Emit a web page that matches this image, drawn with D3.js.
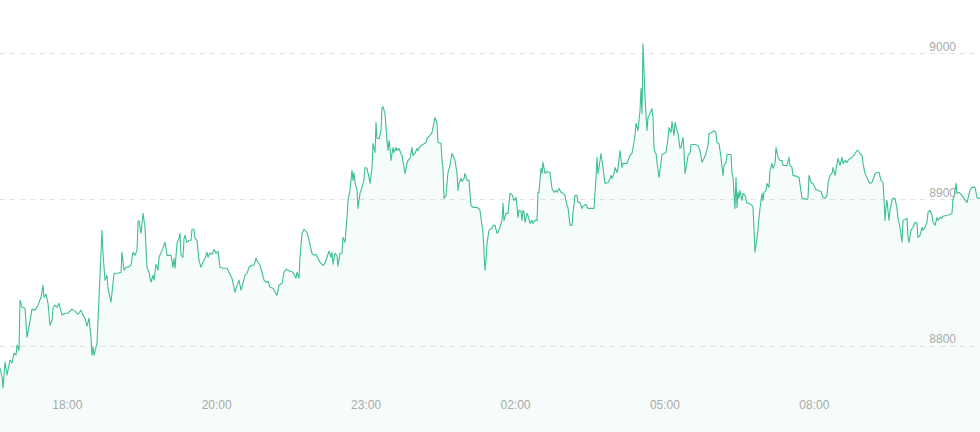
<!DOCTYPE html>
<html><head><meta charset="utf-8">
<script src="https://cdn.jsdelivr.net/npm/d3@7/dist/d3.min.js"></script>
<style>html,body{margin:0;padding:0;background:#fff;}svg{display:block;}</style>
</head><body>
<svg id="c" width="980" height="432"></svg>
<script>
// category slot index (one slot per sample) and price
const series = [
[0,8784.6],[2,8778.4],[3,8770.9],[5,8788.7],[7,8779.8],[10,8790.0],[12,8788.0],[14,8794.8],[16,8793.4],[17,8800.3],[19,8796.8],[20,8831.0],[22,8826.2],[25,8825.5],[27,8805.7],[29,8812.6],[32,8824.9],[35,8824.2],[38,8827.6],[41,8833.0],[43,8841.2],[44,8833.0],[46,8835.1],[48,8828.9],[50,8813.9],[52,8817.3],[53,8825.5],[55,8827.6],[57,8826.2],[59,8828.9],[62,8820.8],[65,8822.1],[68,8822.1],[72,8824.9],[75,8823.5],[78,8821.4],[81,8824.2],[83,8820.8],[85,8818.7],[87,8813.2],[89,8818.7],[91,8805.7],[92,8793.4],[93,8798.9],[94,8793.4],[97,8801.6],[99,8833.0],[102,8878.8],[103,8863.1],[105,8844.7],[107,8848.1],[108,8839.2],[111,8829.6],[113,8842.6],[114,8849.4],[118,8849.4],[121,8850.1],[122,8863.8],[124,8851.5],[126,8853.5],[128,8853.5],[131,8854.9],[133,8863.8],[135,8861.7],[137,8865.1],[138,8884.3],[139,8885.6],[141,8876.8],[143,8890.4],[145,8880.9],[147,8853.5],[149,8850.1],[151,8843.3],[153,8848.1],[154,8844.7],[156,8855.6],[158,8851.5],[159,8860.4],
[162,8865.1],[165,8870.6],[167,8861.7],[171,8861.7],[173,8853.5],[174,8859.7],[175,8852.9],[177,8869.9],[179,8873.3],[180,8876.8],[181,8861.7],[183,8860.4],[184,8873.3],[185,8875.4],[187,8870.6],[189,8872.0],[191,8872.0],[192,8879.5],[194,8879.5],[195,8873.3],[197,8872.0],[199,8858.3],[201,8853.5],[203,8857.0],[205,8859.7],[207,8863.8],[208,8860.4],[210,8863.1],[212,8862.4],[214,8865.8],[216,8863.1],[218,8864.5],[220,8853.5],[223,8852.9],[227,8852.9],[228,8851.5],[232,8846.0],[235,8836.5],[237,8841.2],[239,8844.7],[241,8837.8],[243,8842.6],[245,8848.1],[247,8849.4],[249,8853.5],[252,8854.9],[254,8854.9],[256,8859.7],[258,8857.0],[260,8854.9],[262,8850.1],[264,8844.7],[266,8843.3],[268,8844.0],[270,8839.9],[273,8839.2],[275,8836.5],[277,8834.4],[279,8841.2],[282,8842.6],[284,8850.1],[286,8852.2],[290,8850.8],[293,8850.1],[296,8846.0],[297,8850.1],[299,8846.0],[300,8860.4],[302,8876.8],[304,8879.5],[307,8877.4],[309,8872.0],[312,8863.1],[314,8861.7],[316,8862.4],[318,8859.7],
[320,8857.0],[323,8854.9],[325,8856.3],[327,8860.4],[329,8864.5],[331,8860.4],[332,8863.8],[333,8855.6],[335,8863.1],[337,8861.7],[338,8854.2],[340,8863.1],[342,8863.1],[343,8874.0],[345,8870.6],[347,8887.7],[348,8899.3],[350,8906.1],[352,8919.8],[353,8913.0],[354,8918.4],[355,8911.6],[357,8906.1],[358,8893.8],[360,8904.1],[362,8908.2],[364,8913.6],[365,8921.8],[367,8921.2],[369,8915.0],[370,8910.9],[372,8921.8],[373,8938.2],[375,8932.1],[376,8952.6],[377,8941.6],[379,8941.6],[381,8947.1],[382,8962.8],[383,8963.5],[385,8958.7],[387,8940.3],[388,8933.4],[389,8940.3],[390,8935.5],[391,8926.6],[393,8935.5],[394,8932.1],[396,8935.5],[397,8933.4],[399,8934.8],[401,8931.4],[402,8930.0],[404,8921.8],[405,8917.7],[407,8924.6],[408,8926.6],[410,8928.0],[412,8935.5],[413,8930.0],[415,8931.4],[417,8934.8],[418,8933.4],[420,8936.2],[423,8937.5],[426,8938.9],[427,8941.6],[429,8943.0],[432,8945.7],[433,8949.2],[435,8956.0],[437,8951.9],[438,8938.9],[441,8938.2],[442,8926.6],[443,8921.2],[444,8900.7],[446,8902.7],[447,8910.9],[448,8918.4],[450,8923.2],[452,8931.4],[453,8930.0],[455,8926.6],[457,8917.7],[458,8906.1],[459,8910.9],[461,8914.3],[462,8912.3],[464,8914.3],[465,8917.7],[467,8913.0],[469,8913.0],[471,8895.9],[473,8894.5],[477,8894.5],[479,8893.8],
[480,8892.5],[483,8876.8],[485,8851.5],[486,8858.3],[487,8869.9],[489,8878.8],[492,8880.2],[493,8882.2],[495,8882.2],[497,8876.8],[498,8877.4],[500,8880.9],[502,8885.6],[503,8897.3],[504,8885.6],[506,8890.4],[508,8890.4],[510,8904.1],[512,8903.4],[514,8899.3],[516,8901.3],[518,8887.7],[519,8892.5],[521,8891.8],[522,8885.6],[523,8892.5],[524,8891.1],[525,8884.3],[527,8890.4],[528,8889.1],[530,8883.6],[532,8885.6],[533,8883.6],[535,8885.6],[537,8885.6],[538,8904.8],[539,8904.8],[541,8921.2],[542,8917.7],[543,8925.3],[545,8917.7],[547,8919.1],[550,8918.4],[552,8907.5],[554,8904.8],[556,8906.1],[557,8904.8],[559,8907.5],[561,8904.8],[563,8904.1],[565,8902.7],[567,8895.9],[568,8894.5],[570,8882.2],[572,8882.2],[573,8891.1],[575,8902.7],[577,8902.7],[578,8897.9],[580,8897.9],[582,8893.8],[583,8895.2],[586,8896.6],[588,8893.8],[592,8893.8],[594,8893.8],[596,8915.0],[597,8928.7],[598,8917.7],[599,8921.8],[601,8931.4],[602,8926.6],[603,8921.8],[605,8910.9],[608,8911.6],[610,8914.3],[611,8916.4],[612,8914.3],[614,8917.7],[615,8921.8],[617,8918.4],[618,8921.2],[620,8933.4],[622,8921.8],[623,8924.6],[627,8924.6],[628,8926.6],[630,8930.0],[632,8931.4],[633,8935.5],[635,8943.7],[636,8951.9],[638,8947.1],[640,8960.8],
[641,8975.8],[642,8958.7],[643,9006.5],[645,8969.6],[647,8947.1],[648,8956.0],[650,8958.7],[652,8962.1],[653,8956.0],[654,8935.5],[655,8932.1],[656,8931.4],[657,8925.3],[659,8915.0],[661,8925.3],[662,8930.7],[664,8931.4],[666,8932.1],[668,8941.6],[669,8949.2],[671,8945.7],[672,8953.3],[674,8943.7],[675,8952.6],[677,8947.1],[678,8945.1],[680,8934.8],[681,8935.5],[683,8942.3],[684,8933.4],[685,8917.7],[687,8925.3],[688,8930.0],[690,8931.4],[691,8937.5],[695,8937.5],[698,8936.9],[700,8933.4],[702,8925.3],[704,8928.0],[706,8931.4],[708,8936.9],[709,8945.1],[712,8945.7],[714,8947.1],[716,8945.7],[717,8938.9],[719,8938.2],[721,8928.7],[723,8916.4],[724,8923.2],[726,8925.3],[727,8930.7],[731,8930.7],[732,8917.7],[733,8915.0],[735,8893.8],[736,8915.0],[737,8894.5],[738,8904.8],[739,8900.7],[740,8906.1],[742,8899.3],[743,8904.1],[745,8902.7],[747,8897.3],[749,8897.3],[752,8895.9],[753,8894.5],[755,8863.8],[757,8873.3],[758,8880.2],[760,8893.8],[762,8904.1],[763,8899.3],[764,8904.8],[766,8906.1],[767,8910.9],[769,8908.2],[770,8919.8],[772,8924.6],[773,8921.2],[775,8924.6],[776,8935.5],[778,8928.7],[780,8926.6],[782,8926.6],[783,8923.2],[787,8923.2],[789,8928.7],[790,8923.2],[792,8921.8],[793,8916.4],[797,8915.7],[799,8915.0],
[802,8900.7],[807,8900.0],[808,8900.7],[809,8916.4],[811,8911.6],[813,8910.9],[816,8906.8],[818,8906.1],[821,8905.4],[823,8901.3],[825,8900.7],[827,8902.7],[828,8910.9],[830,8916.4],[832,8917.7],[833,8921.8],[835,8916.4],[837,8924.6],[838,8928.0],[840,8923.2],[842,8928.7],[843,8924.6],[845,8926.6],[847,8925.3],[848,8926.6],[850,8928.0],[852,8928.7],[853,8929.4],[855,8931.4],[857,8933.4],[858,8933.4],[860,8931.4],[862,8930.0],[863,8924.6],[865,8917.7],[867,8915.0],[868,8913.0],[870,8910.9],[872,8911.6],[873,8913.6],[875,8917.7],[877,8918.4],[879,8918.4],[881,8913.0],[883,8911.6],[884,8900.7],[885,8885.6],[886,8894.5],[887,8899.3],[889,8885.6],[890,8892.5],[892,8899.3],[893,8900.7],[895,8900.7],[897,8893.8],[898,8887.0],[900,8880.9],[902,8870.6],[903,8885.6],[905,8886.3],[907,8887.0],[908,8874.0],[909,8870.6],[911,8878.8],[913,8880.9],[915,8884.3],[917,8883.6],[918,8874.0],[920,8875.4],[922,8880.9],[923,8878.8],[925,8880.9],[927,8884.3],[928,8891.1],[930,8892.5],[932,8889.1],[933,8884.3],[935,8882.2],[937,8887.7],[938,8885.6],[940,8887.7],[942,8887.0],[943,8888.4],[947,8889.1],[950,8889.7],[952,8890.4],[953,8900.7],[954,8901.3],[956,8910.9],[957,8904.1],[959,8904.8],[962,8902.7],[964,8900.7],[967,8897.9],[968,8900.7],[970,8906.1],[972,8908.2],[975,8908.2],[977,8901.3],[978,8900.7],[980,8900.7]
];
const xTickSlots = [67.3, 216.7, 366.1, 515.5, 664.9, 814.3];
const xTickLabels = ["18:00", "20:00", "23:00", "02:00", "05:00", "08:00"];
const yTicks = [8800, 8900, 9000];

const W = 980, H = 432;
const svg = d3.select("#c");
const x = d3.scaleLinear().domain([0, 980]).range([0, W]);
const y = d3.scaleLinear().domain([8800, 9000]).range([345.5, 53.2]);

// area
const area = d3.area().x(d => x(d[0])).y0(H).y1(d => y(d[1]));
const line = d3.line().x(d => x(d[0])).y(d => y(d[1]));

// grid
svg.append("g").selectAll("line").data(yTicks).join("line")
  .attr("x1", 0).attr("x2", W)
  .attr("y1", d => Math.round(y(d)) + 0.5).attr("y2", d => Math.round(y(d)) + 0.5)
  .attr("stroke", "#e3e3e3").attr("stroke-width", 1).attr("stroke-dasharray", "5,5");

svg.append("path").datum(series).attr("d", area)
  .attr("fill", "rgb(52,190,140)").attr("fill-opacity", 0.05);
svg.append("path").datum(series).attr("d", line)
  .attr("fill", "none").attr("stroke", "#3dbf92").attr("stroke-width", 1.1)
  .attr("stroke-linejoin", "round");

// y labels
svg.append("g").selectAll("text").data(yTicks).join("text")
  .attr("x", 956).attr("y", d => y(d) - 2.7)
  .attr("text-anchor", "end")
  .attr("font-family", "'Liberation Sans', Arial, sans-serif").attr("font-size", 12)
  .attr("fill", "#aaaaaa").text(d => d);

// x labels
svg.append("g").selectAll("text").data(xTickSlots).join("text")
  .attr("x", d => x(d)).attr("y", 409.3)
  .attr("text-anchor", "middle")
  .attr("font-family", "'Liberation Sans', Arial, sans-serif").attr("font-size", 12)
  .attr("fill", "#aaaaaa").text((d, i) => xTickLabels[i]);
</script>
</body></html>
